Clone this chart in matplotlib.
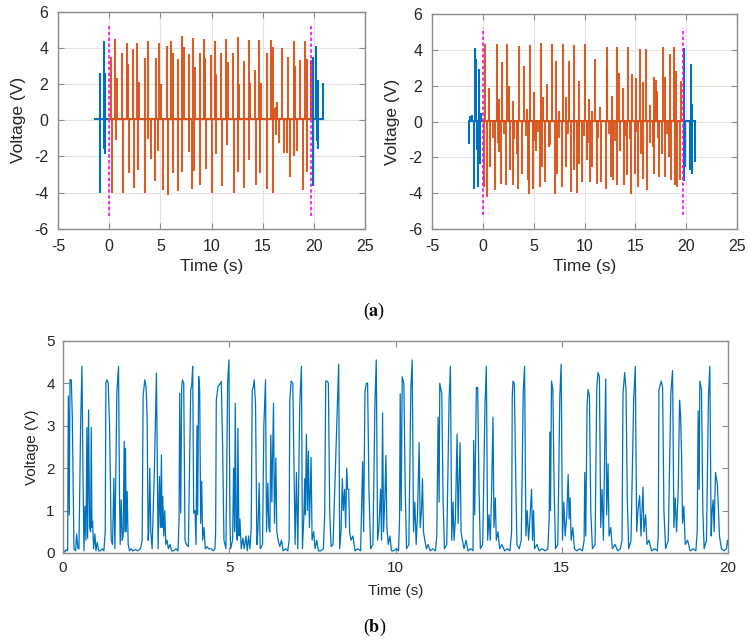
import matplotlib
matplotlib.use("Agg")
import matplotlib.pyplot as plt

plt.rcParams['font.family'] = ['Liberation Sans', 'DejaVu Sans']
plt.rcParams['axes.unicode_minus'] = False
plt.rcParams['mathtext.fontset'] = 'stix'

BLUE = '#0072BD'
ORANGE = '#D95319'
MAGENTA = '#FF00FF'

# --- (a) left: orange spikes inside the window, blue outside ---
pos_t_l = [0.17, 0.56, 0.72, 1.21, 1.70, 1.83, 2.32, 2.71, 2.87, 3.46, 3.82, 4.54, 4.89, 5.06,
           5.65, 6.04, 6.2, 6.69, 7.11, 7.28, 7.8, 8.16, 8.35, 8.84, 9.23, 9.4, 9.92, 10.31,
           10.47, 10.93, 11.42, 11.58, 12.07, 12.56, 12.66, 13.21, 13.64, 13.77, 14.29, 14.68,
           14.81, 15.4, 15.85, 15.99, 16.15, 16.31, 16.44, 16.9, 17.5, 18.04, 18.17, 18.66,
           19.15, 19.28, 19.7]
pos_v_l = [3.5, 4.5, 2.35, 3.7, 4.25, 3.13, 3.93, 4.24, 2.13, 3.43, 4.35, 3.43, 4.24, 1.98,
           4.11, 4.39, 3.74, 3.37, 4.67, 4.02, 3.65, 4.54, 2.94, 3.74, 4.48, 3.43, 3.61, 4.35,
           2.54, 3.7, 4.48, 3.19, 3.74, 4.57, 1.98, 3.28, 4.43, 2.07, 2.76, 4.43,
           2.07, 3.69, 4.43, 4.02, 0.65, 0.72, 1.02, 4.0, 3.5, 4.4, 3.0, 3.3,
           4.4, 3.4, 3.3]
neg_t_l = [0.26, 0.65, 1.34, 1.92, 2.45, 2.84, 3.49, 3.75, 4.04, 4.5, 4.73, 5.28, 5.71, 6.19,
           6.68, 7.14, 7.76, 8.05, 8.31, 8.87, 9.49, 10.04, 10.47, 10.99, 11.54, 12.23, 12.62,
           13.2, 13.63, 14.38, 14.77, 15.39, 15.98, 16.34, 16.63, 17.05, 17.38, 17.7, 18.1,
           18.32, 18.94, 19.33]
neg_v_l = [-4.02, -1.08, -4.02, -2.92, -3.75, -2.73, -4.02, -1.04, -2.15, -3.38, -1.72, -3.84,
           -4.12, -2.92, -3.93, -2.88, -1.78, -3.8, -2.83, -3.56, -2.7, -4.02, -1.85, -3.62,
           -1.39, -4.02, -2.88, -3.75, -2.18, -3.56, -2.92, -3.78, -4.02, -0.8, -1.26, -1.81,
           -1.81, -3.14, -2.0, -1.72, -3.84, -2.88]
blue_pos_t_l = [-0.91, -0.55, -0.42, 19.93, 20.25, 20.38, 20.92]
blue_pos_v_l = [2.6, 4.4, 2.6, 3.5, 4.1, 2.2, 2.05]
blue_neg_t_l = [-0.91, -0.55, -0.42, 19.93, 20.3, 20.42]
blue_neg_v_l = [-4.0, -1.6, -1.85, -3.65, -1.15, -1.6]
blue_span_l = [(-1.37, 0.0), (19.7, 20.9)]
orange_span_l = (0.0, 19.75)
marker_t_l = [0.0, 19.73]

# --- (a) right ---
pos_t_r = [0.23, 0.63, 1.38, 1.5, 1.55, 1.88, 2.4, 2.57, 2.96, 3.55, 4.01, 4.3, 4.64, 5.07,
           5.72, 5.92, 6.32, 6.84, 7.17, 7.5, 7.83, 8.13, 8.42, 8.95, 9.47, 10.0, 10.46, 10.7,
           11.02, 11.5, 12.17, 12.24, 12.66, 13.22, 13.42, 13.78, 14.31, 14.7, 15.03, 15.46,
           15.79, 16.05, 16.4, 16.84, 17.04, 17.17, 17.7, 17.9, 18.36, 18.75, 18.95, 19.5]
pos_v_r = [4.33, 1.9, 4.33, 0.9, 1.26, 3.3, 4.33, 2.0, 1.17, 4.24, 3.12, 0.7, 4.29, 1.64,
           4.37, 1.36, 2.1, 4.33, 3.4, 0.6, 4.33, 1.36, 3.4, 4.27, 2.29, 4.33, 1.26, 0.6,
           3.49, 0.8, 4.14, 3.03, 1.45, 4.14, 2.7, 1.9, 4.14, 2.66, 2.43, 4.05,
           2.2, 4.05, 0.9, 2.5, 2.3, 1.7, 4.14, 2.5, 3.8, 4.14, 2.84, 2.25]
neg_t_r = [0.07, 0.39, 0.66, 1.22, 1.55, 1.78, 2.3, 2.7, 2.93, 3.36, 3.45, 3.85, 4.41, 4.54,
           4.93, 5.26, 5.59, 5.82, 6.15, 6.48, 7.04, 7.3, 7.76, 8.19, 8.62, 8.95, 9.21, 9.44,
           9.77, 10.2, 10.53, 10.76, 11.18, 11.58, 12.07, 12.57, 12.83, 13.16, 13.49, 13.88,
           14.21, 14.61, 14.93, 15.3, 15.59, 15.79, 16.18, 16.71, 16.84, 17.37, 17.66, 17.96,
           18.29, 18.55, 18.88, 19.14, 19.41]
neg_v_r = [-3.66, -4.22, -2.55, -3.85, -1.71, -3.48, -3.57, -2.73, -3.57, -1.8, -3.75, -2.92,
           -3.29, -4.03, -3.75, -1.62, -3.66, -2.55, -3.38, -1.43, -4.03, -2.92, -3.66, -2.55,
           -3.94, -2.73, -4.0, -2.36, -3.38, -2.17, -3.38, -2.55, -3.48, -3.38, -3.75, -3.1,
           -3.29, -3.57, -1.62, -3.57, -3.01, -4.03, -2.92, -3.66, -1.8, -3.2, -3.85, -1.43,
           -2.92, -3.1, -1.8, -3.1, -1.99, -3.29, -3.57, -3.66, -3.29]
ripple_t_r = [1.0, 1.45, 2.05, 3.1, 4.2, 5.0, 5.45, 6.6, 7.5, 8.4, 9.0, 9.9, 10.3, 11.3,
              12.4, 13.0, 14.0, 14.5, 15.1, 16.4, 17.2, 18.1, 19.0]
ripple_v_r = [-0.9, -1.2, -0.7, -1.0, -0.8, -1.1, -0.6, -1.3, -0.9, -0.7, -1.0, -0.8, -1.2,
              -0.9, -0.7, -1.1, -0.8, -1.0, -0.6, -1.2, -0.9, -0.7, -1.0]
blue_pos_t_r = [-1.32, -1.1, -0.79, -0.72, -0.39, -0.2, 19.8, 20.46, 20.59]
blue_pos_v_r = [0.33, 0.35, 4.1, 3.5, 2.94, 0.5, 4.1, 3.2, 1.0]
blue_neg_t_r = [-1.41, -0.86, -0.59, -0.53, -0.33, 19.82, 19.93, 20.39, 20.56, 20.86]
blue_neg_v_r = [-1.25, -3.75, -1.6, -3.66, -2.36, -3.3, -2.55, -2.73, -2.92, -2.27]
blue_span_r = [(-1.41, 0.0), (19.65, 20.9)]
orange_span_r = (0.0, 19.65)
marker_t_r = [0.0, 19.65]

# --- (b) rectified signal, (time s, voltage V) ---
trace_b = [
    (0.00, 0.08), (0.05, 0.02), (0.10, 0.08), (0.14, 0.05), (0.16, 3.7), (0.19, 0.9), (0.21, 4.08),
    (0.25, 4.08), (0.28, 3.2), (0.33, 0.1), (0.38, 0.05), (0.41, 0.45), (0.45, 0.1), (0.48, 0.1),
    (0.53, 3.0), (0.57, 4.4), (0.60, 2.0), (0.63, 0.05), (0.66, 1.1), (0.69, 0.3), (0.72, 2.96),
    (0.74, 0.35), (0.77, 3.37), (0.80, 0.6), (0.83, 0.5), (0.85, 2.96), (0.87, 0.6), (0.89, 0.75),
    (0.92, 0.1), (0.96, 0.45), (0.99, 0.05), (1.03, 0.25), (1.07, 0.05), (1.12, 0.05), (1.18, 0.1),
    (1.23, 0.05),
    (1.27, 0.5), (1.29, 4.0), (1.32, 4.08), (1.36, 4.0), (1.40, 3.0), (1.45, 0.3), (1.49, 0.2),
    (1.53, 1.76), (1.56, 0.1), (1.62, 3.8), (1.67, 4.4), (1.70, 1.3), (1.72, 0.2), (1.75, 1.25),
    (1.78, 0.3), (1.81, 0.4), (1.84, 2.63), (1.86, 0.5), (1.88, 2.47), (1.90, 0.5), (1.93, 1.45),
    (1.96, 0.2), (2.00, 0.05), (2.05, 0.1), (2.10, 0.05), (2.18, 0.08), (2.25, 0.05), (2.33, 0.1),
    (2.38, 0.3), (2.41, 3.7), (2.46, 4.08), (2.50, 3.9), (2.53, 3.2), (2.56, 0.3), (2.58, 0.5),
    (2.61, 2.0), (2.64, 0.5), (2.68, 0.1), (2.75, 2.0), (2.81, 4.24), (2.84, 1.84), (2.86, 0.1),
    (2.90, 1.8), (2.93, 0.6), (2.96, 2.31), (2.98, 0.6), (3.00, 1.33), (3.03, 0.4), (3.06, 1.0),
    (3.09, 0.2), (3.13, 0.3), (3.17, 0.1), (3.22, 0.2), (3.27, 0.05), (3.33, 0.05), (3.40, 0.1),
    (3.46, 0.05),
    (3.49, 0.8), (3.51, 3.76), (3.54, 0.94), (3.57, 3.9), (3.59, 4.08), (3.63, 4.0), (3.67, 0.3),
    (3.71, 0.2), (3.77, 0.15), (3.84, 3.84), (3.87, 3.95), (3.90, 4.4), (3.93, 0.94), (3.97, 1.0),
    (4.00, 0.2), (4.03, 3.0), (4.05, 0.9), (4.08, 4.16), (4.11, 3.84), (4.14, 0.7), (4.17, 1.69),
    (4.20, 0.3), (4.24, 0.6), (4.28, 0.1), (4.33, 0.15), (4.38, 0.1), (4.45, 0.1), (4.52, 0.05),
    (4.57, 0.1),
    (4.59, 0.5), (4.61, 3.6), (4.66, 3.92), (4.70, 3.96), (4.76, 4.04), (4.80, 2.5), (4.84, 0.3),
    (4.90, 0.1), (4.95, 4.0), (4.99, 4.55), (5.02, 0.8), (5.04, 0.1), (5.10, 0.3), (5.13, 2.0),
    (5.16, 0.5), (5.18, 3.53), (5.21, 0.6), (5.24, 0.3), (5.26, 2.94), (5.29, 0.4), (5.32, 0.8),
    (5.36, 0.1), (5.41, 0.35), (5.45, 0.1), (5.50, 0.4), (5.54, 0.05), (5.58, 0.4), (5.62, 0.1),
    (5.66, 0.6), (5.69, 3.84), (5.72, 3.9), (5.75, 4.08), (5.79, 3.5), (5.83, 0.2), (5.86, 0.5),
    (5.90, 1.65), (5.93, 0.1), (6.00, 0.2), (6.04, 3.0), (6.09, 4.08), (6.12, 0.5), (6.16, 1.65),
    (6.19, 0.6), (6.22, 0.5), (6.25, 2.78), (6.28, 1.2), (6.33, 3.53), (6.36, 0.7), (6.40, 2.24),
    (6.43, 0.5), (6.47, 0.3), (6.52, 0.15), (6.57, 0.3), (6.62, 0.05), (6.70, 0.1), (6.76, 0.05),
    (6.80, 0.3), (6.82, 3.6), (6.86, 4.05), (6.91, 4.0), (6.95, 1.9), (6.98, 0.2), (7.02, 1.9),
    (7.06, 0.1), (7.12, 3.5), (7.17, 4.4), (7.20, 0.1), (7.24, 0.8), (7.27, 1.75), (7.29, 0.9),
    (7.32, 2.8), (7.35, 1.0), (7.38, 2.4), (7.41, 0.6), (7.46, 2.25), (7.49, 0.3), (7.54, 0.5),
    (7.58, 0.1), (7.63, 0.3), (7.68, 0.05), (7.75, 0.05), (7.83, 0.1),
    (7.87, 0.9), (7.90, 4.05), (7.94, 4.05), (7.98, 4.0), (8.02, 1.0), (8.06, 0.15), (8.12, 0.2),
    (8.24, 3.2), (8.29, 4.45), (8.32, 0.1), (8.36, 0.5), (8.40, 1.75), (8.43, 1.0), (8.47, 1.5),
    (8.50, 0.6), (8.53, 2.0), (8.56, 1.5), (8.59, 1.5), (8.62, 0.5), (8.66, 0.3), (8.72, 0.4),
    (8.78, 0.05), (8.86, 0.1), (8.95, 0.05),
    (9.01, 2.15), (9.04, 0.5), (9.08, 3.8), (9.12, 4.0), (9.16, 4.0), (9.20, 1.5), (9.25, 0.1),
    (9.32, 0.2), (9.38, 3.5), (9.42, 4.55), (9.46, 0.3), (9.50, 0.6), (9.55, 1.5), (9.58, 0.3),
    (9.61, 3.3), (9.64, 0.5), (9.68, 1.3), (9.71, 2.3), (9.74, 0.6), (9.78, 0.2), (9.83, 0.4),
    (9.88, 0.05), (9.95, 0.05), (10.03, 0.1), (10.09, 0.05),
    (10.12, 0.8), (10.14, 3.75), (10.17, 1.0), (10.20, 4.15), (10.25, 4.0), (10.29, 1.5),
    (10.33, 0.1), (10.40, 0.2), (10.46, 3.9), (10.50, 4.55), (10.54, 0.5), (10.58, 1.2),
    (10.62, 0.2), (10.66, 0.9), (10.71, 2.6), (10.74, 0.6), (10.78, 1.0), (10.81, 1.75),
    (10.84, 0.5), (10.88, 0.3), (10.93, 0.1), (10.98, 0.2), (11.04, 0.05), (11.12, 0.1),
    (11.20, 0.05),
    (11.24, 0.4), (11.28, 3.2), (11.31, 1.2), (11.33, 4.0), (11.39, 3.75), (11.43, 1.2),
    (11.47, 0.1), (11.54, 0.2), (11.61, 3.6), (11.65, 4.4), (11.69, 0.3), (11.73, 1.2),
    (11.76, 0.3), (11.80, 0.8), (11.85, 2.8), (11.88, 0.7), (11.94, 2.6), (11.97, 0.5),
    (12.01, 0.3), (12.06, 0.1), (12.12, 0.3), (12.18, 0.05), (12.26, 0.1), (12.33, 0.05),
    (12.35, 2.65), (12.38, 0.9), (12.43, 3.9), (12.47, 3.9), (12.51, 1.5), (12.55, 0.1),
    (12.62, 0.2), (12.69, 3.5), (12.73, 4.4), (12.77, 0.3), (12.81, 0.9), (12.85, 0.3),
    (12.89, 1.5), (12.93, 3.2), (12.96, 0.6), (13.00, 1.3), (13.03, 0.3), (13.08, 0.5),
    (13.13, 0.1), (13.20, 0.2), (13.28, 0.05), (13.36, 0.1), (13.44, 0.05),
    (13.49, 0.5), (13.51, 3.7), (13.53, 4.05), (13.57, 4.0), (13.61, 2.0), (13.65, 0.2),
    (13.72, 0.1), (13.78, 0.3), (13.84, 3.8), (13.88, 4.4), (13.92, 0.4), (13.96, 1.0),
    (14.00, 0.3), (14.04, 0.8), (14.09, 1.5), (14.12, 0.3), (14.15, 1.0), (14.18, 0.1),
    (14.25, 0.2), (14.32, 0.05), (14.40, 0.1), (14.50, 0.05), (14.58, 0.1),
    (14.62, 0.8), (14.64, 2.85), (14.66, 1.0), (14.69, 4.05), (14.73, 3.85), (14.77, 1.5),
    (14.81, 0.1), (14.88, 0.2), (14.94, 3.7), (14.98, 4.45), (15.02, 0.3), (15.06, 1.2),
    (15.10, 0.4), (15.15, 0.9), (15.19, 1.85), (15.22, 0.8), (15.25, 1.3), (15.28, 0.3),
    (15.33, 0.6), (15.38, 0.1), (15.45, 0.05), (15.53, 0.1), (15.62, 0.05),
    (15.67, 0.3), (15.69, 1.9), (15.72, 0.4), (15.76, 3.5), (15.79, 3.85), (15.83, 3.7),
    (15.87, 1.0), (15.92, 0.1), (16.00, 0.2), (16.05, 3.9), (16.09, 4.25), (16.13, 4.15),
    (16.17, 0.6), (16.21, 1.5), (16.25, 0.3), (16.29, 2.5), (16.32, 4.1), (16.35, 0.9),
    (16.39, 2.1), (16.42, 0.4), (16.47, 0.6), (16.52, 0.1), (16.60, 0.2), (16.68, 0.05),
    (16.76, 0.1),
    (16.81, 0.3), (16.84, 3.75), (16.89, 4.25), (16.93, 3.85), (16.97, 1.2), (17.01, 0.1),
    (17.08, 0.3), (17.16, 3.6), (17.21, 4.4), (17.25, 0.5), (17.29, 1.0), (17.34, 1.35),
    (17.38, 0.4), (17.44, 1.55), (17.47, 0.5), (17.52, 0.9), (17.56, 0.2), (17.62, 0.3),
    (17.70, 0.05), (17.80, 0.1), (17.87, 0.05),
    (17.90, 0.4), (17.92, 3.85), (17.99, 4.05), (18.03, 3.9), (18.07, 1.0), (18.12, 0.1),
    (18.20, 0.3), (18.28, 3.8), (18.33, 4.3), (18.37, 0.6), (18.41, 1.3), (18.45, 0.5),
    (18.50, 1.5), (18.54, 3.6), (18.57, 3.25), (18.60, 2.35), (18.63, 0.7), (18.67, 1.1),
    (18.71, 0.2), (18.78, 0.3), (18.86, 0.05), (18.95, 0.1), (19.03, 0.05),
    (19.07, 0.5), (19.10, 3.35), (19.13, 1.5), (19.15, 4.05), (19.20, 3.85), (19.24, 1.0),
    (19.28, 0.1), (19.35, 0.3), (19.41, 3.7), (19.45, 4.4), (19.49, 0.4), (19.52, 1.0),
    (19.55, 1.25), (19.58, 0.5), (19.62, 1.9), (19.65, 1.75), (19.68, 1.6), (19.71, 1.0),
    (19.74, 0.4), (19.80, 0.1), (19.88, 0.05), (19.95, 0.1), (19.98, 0.3), (20.0, 0.2),
]

SPINE = '#8c8c8c'
TXT = '#262626'


def style_axes(ax, size, pad, grid=True):
    for s in ax.spines.values():
        s.set_color(SPINE)
        s.set_linewidth(1.0)
    ax.tick_params(direction='in', length=4, width=0.8, color=SPINE, labelcolor=TXT,
                   top=True, right=True, labelsize=size, pad=pad)
    if grid:
        ax.grid(True, color='#e3e3e3', linewidth=0.8)
        ax.set_axisbelow(True)


def draw_top(ax, pos_t, pos_v, neg_t, neg_v, bpt, bpv, bnt, bnv, bspan, ospan, marks,
             mspan, extra_t=None, extra_v=None):
    lw = 1.5
    for a, b in bspan:
        ax.plot([a, b], [0.05, 0.05], color=BLUE, lw=lw)
    ax.vlines(bpt, 0, bpv, color=BLUE, lw=lw)
    ax.vlines(bnt, bnv, 0, color=BLUE, lw=lw)
    ax.plot(list(ospan), [0.05, 0.05], color=ORANGE, lw=lw)
    ax.vlines(pos_t, 0, pos_v, color=ORANGE, lw=lw, alpha=0.95)
    ax.vlines(neg_t, neg_v, 0, color=ORANGE, lw=lw, alpha=0.95)
    if extra_t is not None:
        ax.vlines(extra_t, extra_v, 0, color=ORANGE, lw=lw, alpha=0.9)
    for m in marks:
        ax.plot([m, m], [-mspan, mspan], color=MAGENTA, lw=1.2, linestyle=(0, (2, 1.5)))
    ax.set_xlim(-5, 25)
    ax.set_ylim(-6, 6)
    ax.set_xticks(range(-5, 26, 5))
    ax.set_yticks(range(-6, 7, 2))
    ax.set_xlabel('Time (s)', fontsize=12.5, color=TXT, labelpad=4)
    ax.set_ylabel('Voltage (V)', fontsize=12.5, color=TXT, labelpad=6)
    style_axes(ax, 11.5, 7)


fig = plt.figure(figsize=(7.49, 6.43), dpi=100)

ax1 = fig.add_axes([0.0774, 0.644, 0.410, 0.338])
draw_top(ax1, pos_t_l, pos_v_l, neg_t_l, neg_v_l, blue_pos_t_l, blue_pos_v_l,
         blue_neg_t_l, blue_neg_v_l, blue_span_l, orange_span_l, marker_t_l, 5.3)

ax2 = fig.add_axes([0.577, 0.644, 0.407, 0.334])
draw_top(ax2, pos_t_r, pos_v_r, neg_t_r, neg_v_r, blue_pos_t_r, blue_pos_v_r,
         blue_neg_t_r, blue_neg_v_r, blue_span_r, orange_span_r, marker_t_r, 5.2,
         ripple_t_r, ripple_v_r)

ax3 = fig.add_axes([0.0841, 0.14, 0.888, 0.33])
tb = [p[0] for p in trace_b]
vb = [p[1] for p in trace_b]
ax3.plot(tb, vb, color=BLUE, lw=0.9)
ax3.set_xlim(0, 20)
ax3.set_ylim(0, 5)
ax3.set_xticks(range(0, 21, 5))
ax3.set_yticks(range(0, 6))
ax3.set_xlabel('Time (s)', fontsize=11, color=TXT, labelpad=6)
ax3.set_ylabel('Voltage (V)', fontsize=11, color=TXT, labelpad=5)
style_axes(ax3, 11, 6, grid=False)

fig.text(0.5, 1 - 311 / 643, r'($\mathbf{a}$)', ha='center', va='center', fontsize=13,
         family='Liberation Serif')
fig.text(0.5, 1 - 627 / 643, r'($\mathbf{b}$)', ha='center', va='center', fontsize=13,
         family='Liberation Serif')

fig.savefig('out.png', dpi=100)
